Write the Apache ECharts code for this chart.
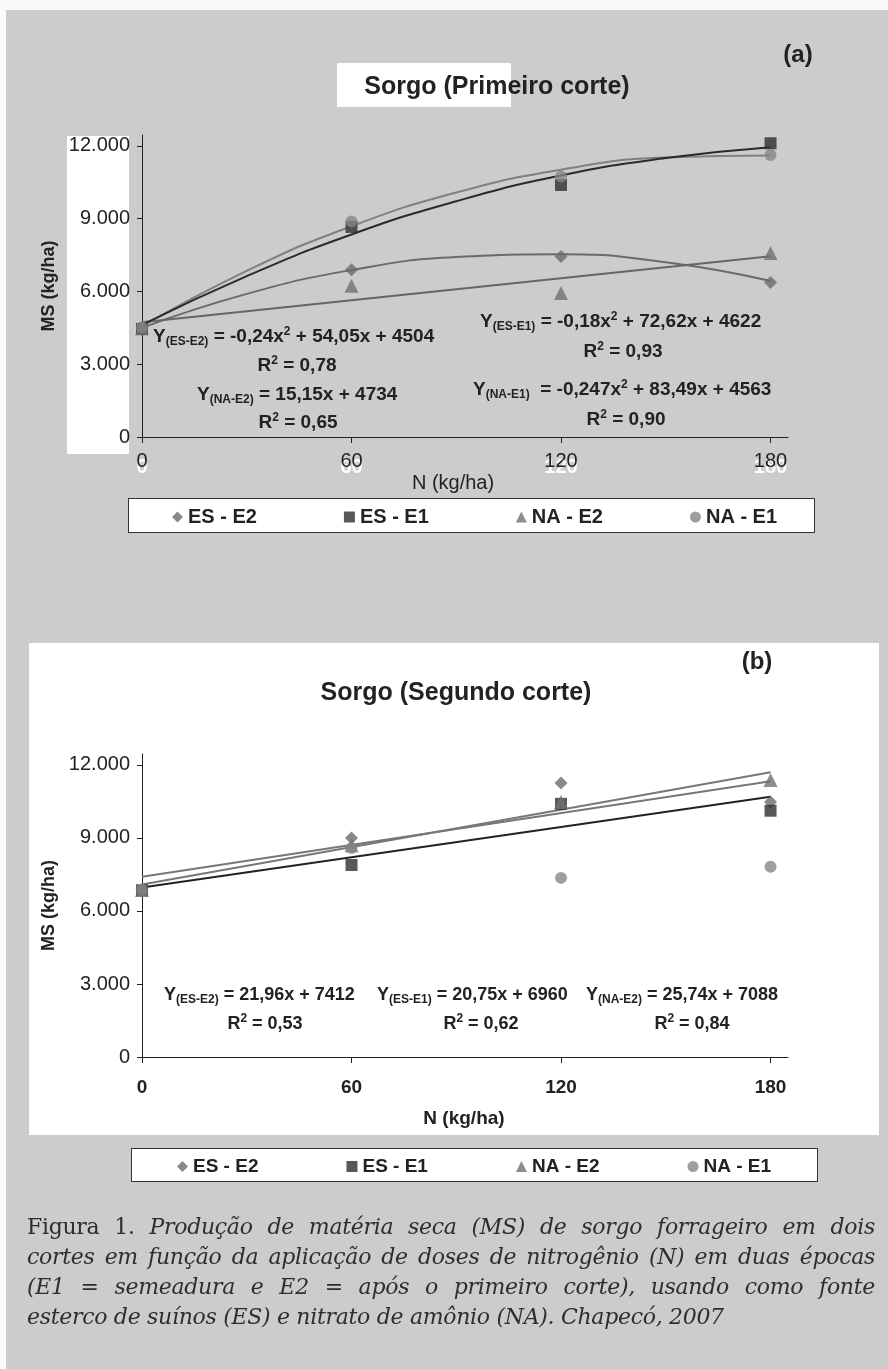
<!DOCTYPE html>
<html>
<head>
    <meta charset="UTF-8">
    <title>Sorgo - produção de matéria seca</title>
    <script src="https://cdn.jsdelivr.net/npm/echarts@6.0.0/dist/echarts.min.js"></script>
    <style>
        html, body {
            margin: 0;
            padding: 0;
            width: 888px;
            height: 1369px;
            background: #fafafa;
            overflow: hidden;
        }
        .box { position: absolute; }
        #bg { left: 6px; top: 10px; right: 0; bottom: 0; background: #cccccc; }
        #plotB { left: 29px; top: 643px; width: 850px; height: 492px; background: #fff; }
        #ylabA { left: 67px; top: 136px; width: 62px; height: 318px; background: #fff; }
        #titA { left: 337px; top: 63px; width: 174px; height: 44px; background: #fff; }
        #legA { left: 128px; top: 498px; width: 685px; height: 33px; background: #fff; border: 1px solid #333; }
        #legB { left: 131px; top: 1148px; width: 685px; height: 32px; background: #fff; border: 1px solid #333; }
        #chart { position: absolute; left: 0; top: 0; width: 888px; height: 1369px; }
        #caption {
            position: absolute;
            left: 27px;
            top: 1212px;
            width: 848px;
            font-family: 'DejaVu Serif', serif;
            font-size: 22px;
            letter-spacing: -0.3px;
            line-height: 30px;
            color: #2e2e2e;
        }
        #caption .ln { text-align: justify; text-align-last: justify; white-space: nowrap; }
        #caption .ln.last { text-align-last: left; }
    </style>
</head>
<body>
<div class="box" id="bg"></div>
<div class="box" id="plotB"></div>
<div class="box" id="ylabA"></div>
<div class="box" id="titA"></div>
<div class="box" id="legA"></div>
<div class="box" id="legB"></div>
<div id="chart"></div>
<div id="caption">
    <div class="ln">Figura 1. <i>Produção de matéria seca (MS) de sorgo forrageiro em dois</i></div>
    <div class="ln"><i>cortes em função da aplicação de doses de nitrogênio (N) em duas épocas</i></div>
    <div class="ln"><i>(E1 = semeadura e E2 = após o primeiro corte), usando como fonte</i></div>
    <div class="ln last"><i>esterco de suínos (ES) e nitrato de amônio (NA). Chapecó, 2007</i></div>
</div>

<script>
    // doses de N (kg/ha)
    var doses = [0, 60, 120, 180];
    var nomes = ['ES - E2', 'ES - E1', 'NA - E2', 'NA - E1'];
    var yTicks = [0, 3000, 6000, 9000, 12000];

    // (a) primeiro corte - pontos observados
    var a_esE2 = [4500, 6890, 7440, 6370];
    var a_esE1 = [4450, 8660, 10390, 12110];
    var a_naE2 = [4480, 6240, 5940, 7590];
    var a_naE1 = [4520, 8880, 10740, 11630];

    // (a) curvas de tendência
    var a_fitX = [0, 30, 60, 90, 120, 150, 180];
    var a_fitEsE2 = [4500, 5900, 6880, 7420, 7530, 7200, 6430];
    var a_fitEsE1 = [4620, 6630, 8350, 9720, 10780, 11500, 11950];
    var a_fitNaE1 = [4560, 6850, 8690, 10080, 11020, 11520, 11600];
    var a_fitNaE2X = [0, 180];
    var a_fitNaE2 = [4730, 7450];

    // (b) segundo corte - pontos observados
    var b_esE2 = [6880, 9000, 11260, 10480];
    var b_esE1 = [6850, 7890, 10400, 10120];
    var b_naE2 = [6860, 8700, 10480, 11380];
    var b_naE1 = [6870, 8590, 7360, 7820];

    // (b) retas de tendência
    var b_fitX = [0, 180];
    var b_fitEsE2 = [7410, 11330];
    var b_fitEsE1 = [6960, 10690];
    var b_fitNaE2 = [7090, 11700];

    var FONT = "'Liberation Sans', Arial, sans-serif";
    var cores = { esE2: '#6c6c6c', esE1: '#2e2e2e', naE2: '#717171', naE1: '#868686' };
    var simbolos = { esE2: 'diamond', esE1: 'rect', naE2: 'triangle', naE1: 'circle' };

    function pares(xs, ys) {
        return xs.map(function (x, i) { return [x, ys[i]]; });
    }

    function milhar(v) {
        return String(v).replace(/\B(?=(\d{3})+(?!\d))/g, '.');
    }

    function pontos(nome, chave, ys, xIdx, yIdx) {
        return {
            type: 'scatter', name: nome, xAxisIndex: xIdx, yAxisIndex: yIdx,
            symbol: simbolos[chave], symbolSize: chave === 'naE2' ? 14 : (chave === 'esE2' ? 13 : 12),
            itemStyle: { color: cores[chave] },
            data: pares(doses, ys), z: 4
        };
    }

    function curva(xs, ys, cor, xIdx, yIdx) {
        return {
            type: 'line', xAxisIndex: xIdx, yAxisIndex: yIdx,
            smooth: true, showSymbol: false, silent: true,
            lineStyle: { color: cor, width: 2 },
            data: pares(xs, ys), z: 3
        };
    }

    function eixoY(grid) {
        return {
            gridIndex: grid, type: 'value', min: 0, max: 12450, interval: 3000,
            name: 'MS (kg/ha)', nameLocation: 'middle', nameGap: 76,
            nameTextStyle: { fontFamily: FONT, fontWeight: 'bold', fontSize: 18, color: '#222' },
            axisLine: { show: true, lineStyle: { color: '#222', width: 1 } },
            axisTick: { show: true, length: 5, customValues: yTicks, lineStyle: { color: '#222' } },
            axisLabel: {
                customValues: yTicks, margin: 12, fontSize: 20, color: '#222', fontFamily: FONT,
                formatter: function (v) { return v % 3000 === 0 ? milhar(v) : ''; }
            },
            splitLine: { show: false }
        };
    }

    function eixoX(grid, opts) {
        return Object.assign({
            gridIndex: grid, type: 'value', position: 'bottom', min: 0, max: 185,
            axisLine: { show: true, onZero: false, lineStyle: { color: '#222', width: 1 } },
            axisTick: { show: true, length: 6, customValues: doses, lineStyle: { color: '#222' } },
            splitLine: { show: false }
        }, opts);
    }

    // texto de equação com subscrito/sobrescrito
    var richEq = function (size) {
        return {
            m: { fontFamily: FONT, fontWeight: 'bold', fontSize: size, lineHeight: 22, color: '#222' },
            s: { fontFamily: FONT, fontWeight: 'bold', fontSize: 12, lineHeight: 12, verticalAlign: 'bottom', color: '#222' },
            p: { fontFamily: FONT, fontWeight: 'bold', fontSize: 12, lineHeight: 12, verticalAlign: 'top', color: '#222' }
        };
    };

    function eq(x, y, txt, align, size) {
        return {
            type: 'text', x: x, y: y, z: 10,
            style: {
                text: txt, rich: richEq(size || 19), fill: '#222',
                align: align || 'left', verticalAlign: 'middle'
            }
        };
    }

    function titulo(x, y, txt, size) {
        return {
            type: 'text', x: x, y: y, z: 10,
            style: {
                text: txt, fill: '#222', align: 'center', verticalAlign: 'middle',
                font: 'bold ' + size + 'px ' + FONT
            }
        };
    }

    var legendaDados = nomes.map(function (n, i) {
        return { name: n, icon: ['diamond', 'rect', 'triangle', 'circle'][i] };
    });

    var chart = echarts.init(document.getElementById('chart'), null, { renderer: 'canvas' });

    var option = {
        backgroundColor: 'transparent',
        animation: false,
        textStyle: { fontFamily: FONT },
        grid: [
            { left: 142, top: 135, width: 646, height: 302 },
            { left: 142, top: 754, width: 646, height: 303 }
        ],
        xAxis: [
            // rótulos brancos duplicados (como no original)
            eixoX(0, {
                axisLine: { show: false }, axisTick: { show: false },
                axisLabel: { customValues: doses, margin: 20, fontSize: 20, fontWeight: 'bold', color: '#fff', fontFamily: FONT }
            }),
            eixoX(0, {
                name: 'N (kg/ha)', nameLocation: 'middle', nameGap: 36,
                nameTextStyle: { fontSize: 20, color: '#222', fontFamily: FONT, padding: [0, 24, 0, 0] },
                axisLabel: { customValues: doses, margin: 14, fontSize: 20, color: '#222', fontFamily: FONT }
            }),
            eixoX(1, {
                name: 'N (kg/ha)', nameLocation: 'middle', nameGap: 52,
                nameTextStyle: { fontSize: 19, fontWeight: 'bold', color: '#222', fontFamily: FONT, padding: [0, 2, 0, 0] },
                axisLabel: { customValues: doses, margin: 21, fontSize: 19, fontWeight: 'bold', color: '#222', fontFamily: FONT }
            })
        ],
        yAxis: [eixoY(0), eixoY(1)],
        legend: [
            {
                data: legendaDados, left: 172, top: 507, padding: 0, itemGap: 87,
                itemWidth: 11, itemHeight: 11, itemStyle: { borderWidth: 0 },
                textStyle: { fontSize: 20, fontWeight: 'bold', color: '#222', fontFamily: FONT }
            },
            {
                data: legendaDados, left: 177, top: 1157, padding: 0, itemGap: 88,
                itemWidth: 11, itemHeight: 11, itemStyle: { borderWidth: 0 },
                textStyle: { fontSize: 19, fontWeight: 'bold', color: '#222', fontFamily: FONT }
            }
        ],
        graphic: [
            titulo(497, 87, 'Sorgo (Primeiro corte)', 25),
            titulo(798, 55, '(a)', 24),
            titulo(456, 693, 'Sorgo (Segundo corte)', 25),
            titulo(757, 662, '(b)', 24),

            eq(153, 337, '{m|Y}{s|(ES-E2)}{m| = -0,24x}{p|2}{m| + 54,05x + 4504}'),
            eq(297, 366, '{m|R}{p|2}{m| = 0,78}', 'center'),
            eq(197, 395, '{m|Y}{s|(NA-E2)}{m| = 15,15x + 4734}'),
            eq(298, 423, '{m|R}{p|2}{m| = 0,65}', 'center'),
            eq(480, 322, '{m|Y}{s|(ES-E1)}{m| = -0,18x}{p|2}{m| + 72,62x + 4622}'),
            eq(623, 352, '{m|R}{p|2}{m| = 0,93}', 'center'),
            eq(473, 390, '{m|Y}{s|(NA-E1)}{m|  = -0,247x}{p|2}{m| + 83,49x + 4563}'),
            eq(626, 420, '{m|R}{p|2}{m| = 0,90}', 'center'),

            eq(164, 995, '{m|Y}{s|(ES-E2)}{m| = 21,96x + 7412}', 'left', 18),
            eq(265, 1024, '{m|R}{p|2}{m| = 0,53}', 'center', 18),
            eq(377, 995, '{m|Y}{s|(ES-E1)}{m| = 20,75x + 6960}', 'left', 18),
            eq(481, 1024, '{m|R}{p|2}{m| = 0,62}', 'center', 18),
            eq(586, 995, '{m|Y}{s|(NA-E2)}{m| = 25,74x + 7088}', 'left', 18),
            eq(692, 1024, '{m|R}{p|2}{m| = 0,84}', 'center', 18)
        ],
        series: [
            // (a)
            curva(a_fitX, a_fitEsE2, '#6a6a6a', 1, 0),
            curva(a_fitNaE2X, a_fitNaE2, '#666666', 1, 0),
            curva(a_fitX, a_fitNaE1, '#808080', 1, 0),
            curva(a_fitX, a_fitEsE1, '#2a2a2a', 1, 0),
            pontos(nomes[0], 'esE2', a_esE2, 1, 0),
            pontos(nomes[1], 'esE1', a_esE1, 1, 0),
            pontos(nomes[2], 'naE2', a_naE2, 1, 0),
            pontos(nomes[3], 'naE1', a_naE1, 1, 0),
            // (b)
            curva(b_fitX, b_fitEsE1, '#222222', 2, 1),
            curva(b_fitX, b_fitEsE2, '#777777', 2, 1),
            curva(b_fitX, b_fitNaE2, '#777777', 2, 1),
            pontos(nomes[0], 'esE2', b_esE2, 2, 1),
            pontos(nomes[1], 'esE1', b_esE1, 2, 1),
            pontos(nomes[2], 'naE2', b_naE2, 2, 1),
            pontos(nomes[3], 'naE1', b_naE1, 2, 1)
        ]
    };

    chart.setOption(option);
</script>
</body>
</html>
